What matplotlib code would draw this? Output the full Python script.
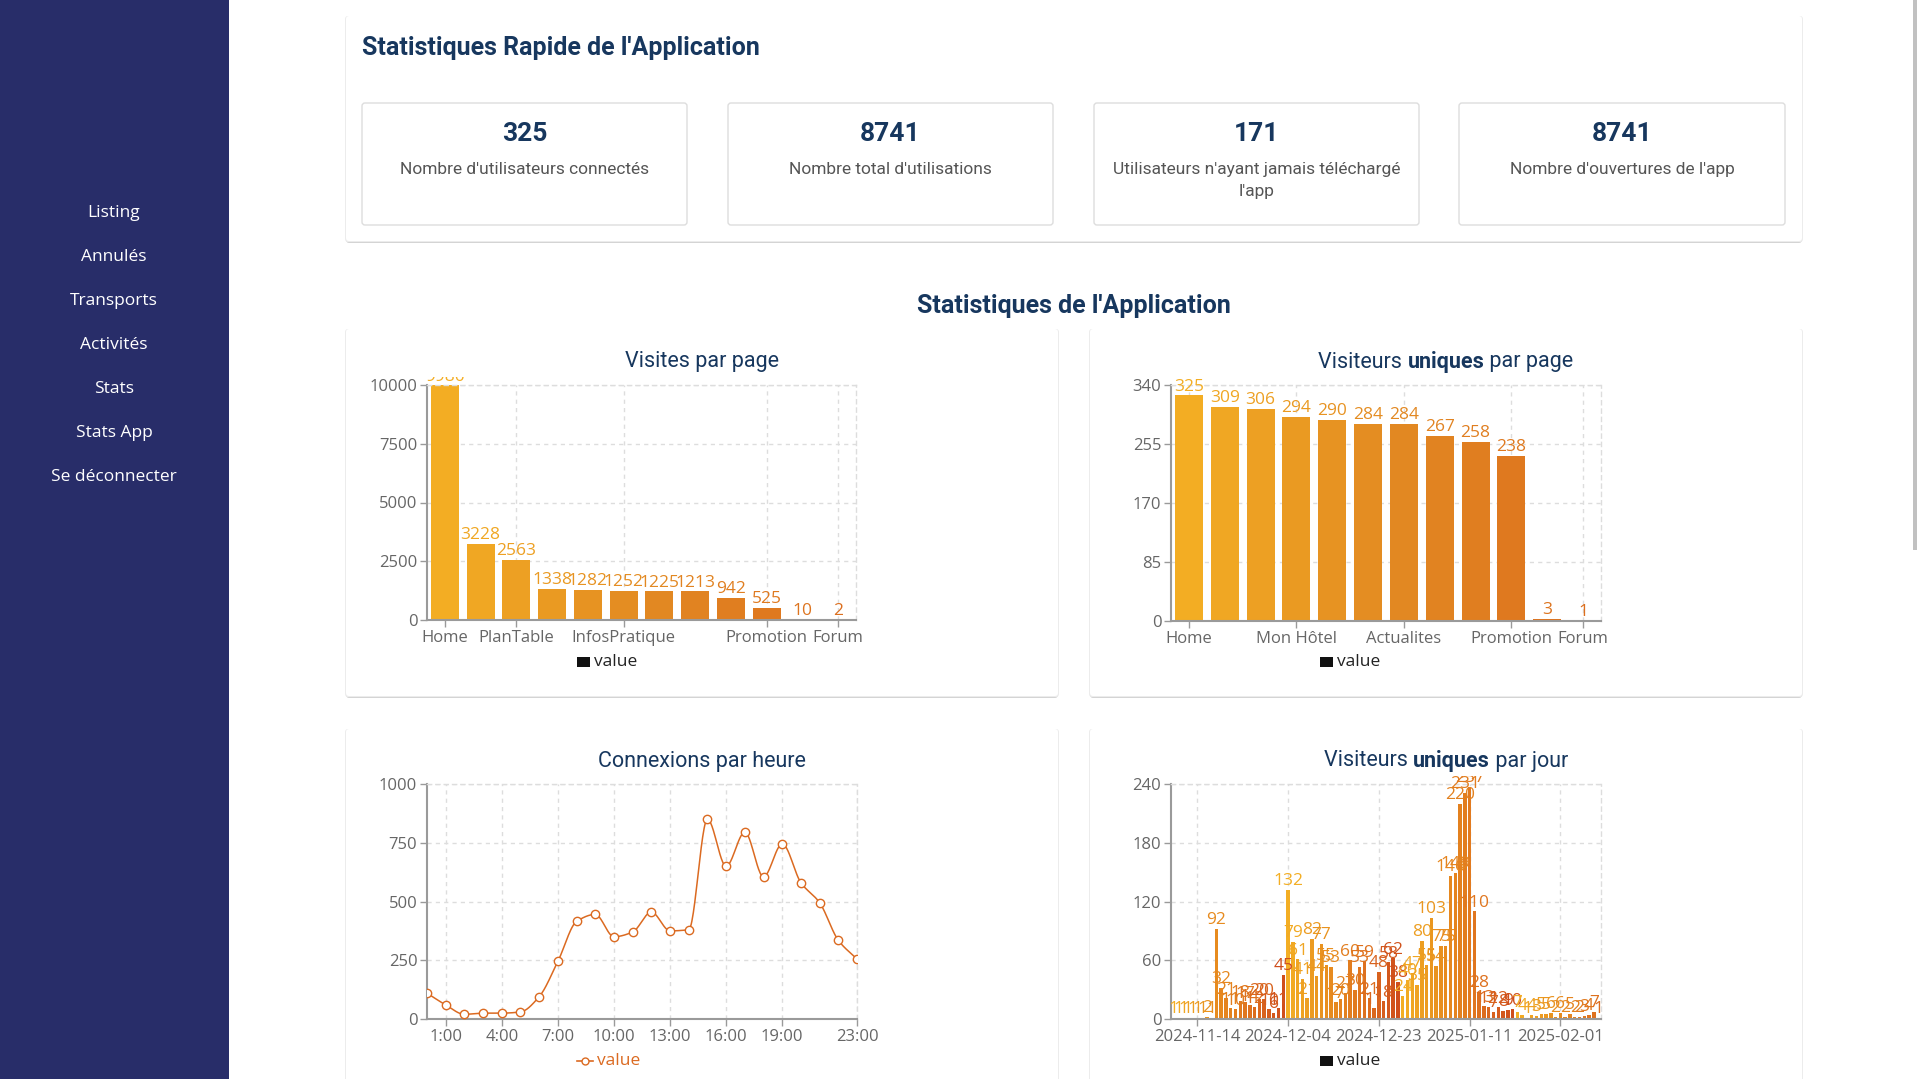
import numpy as np
import matplotlib
matplotlib.use("Agg")
import matplotlib.pyplot as plt
from matplotlib.patches import FancyBboxPatch, Rectangle
from matplotlib.colors import LinearSegmentedColormap, to_hex

# ---------------- data ----------------
menu_items = ["Listing", "Annulés", "Transports", "Activités", "Stats", "Stats App", "Se déconnecter"]
kpi_values = ["325", "8741", "171", "8741"]
kpi_labels = ["Nombre d'utilisateurs connectés", "Nombre total d'utilisations",
              "Utilisateurs n'ayant jamais téléchargé\nl'app", "Nombre d'ouvertures de l'app"]

visits_pages = ["Home", "", "PlanTable", "", "", "InfosPratique", "", "", "", "Promotion", "", "Forum"]
visits_values = [9980, 3228, 2563, 1338, 1282, 1252, 1225, 1213, 942, 525, 10, 2]

unique_pages = ["Home", "", "", "Mon Hôtel", "", "", "Actualites", "", "", "Promotion", "", "Forum"]
unique_values = [325, 309, 306, 294, 290, 284, 284, 267, 258, 238, 3, 1]

hours = list(range(24))
hour_labels = {1: "1:00", 4: "4:00", 7: "7:00", 10: "10:00", 13: "13:00", 16: "16:00", 19: "19:00", 23: "23:00"}
hour_values = [110, 60, 20, 25, 25, 30, 95, 245, 415, 445, 350, 370, 455, 375, 380,
               850, 650, 795, 605, 745, 580, 495, 335, 255]

daily_values = [1, 1, 1, 1, 1, 1, 1, 2, 1, 92,
                32, 21, 11, 10, 18, 17, 14, 12, 20, 20, 10, 6, 11, 45,
                132, 79, 61, 41, 21, 82, 44, 77, 55, 53, 17, 20, 27, 60, 30, 53, 59, 21, 11, 48, 18, 58, 62,
                38, 24, 40, 47, 35, 80, 55, 103, 54, 75, 75, 146, 149, 220, 231, 237,
                110, 28, 13, 12, 7, 12, 8, 9, 10, 7, 4, 1, 4, 3, 5, 5, 6, 2, 6, 2, 5, 2, 2, 3, 4, 7, 1]
daily_tick_idx = [5, 24, 43, 62, 81]
daily_tick_labels = ["2024-11-14", "2024-12-04", "2024-12-23", "2025-01-11", "2025-02-01"]

# ---------------- style ----------------
W, H = 1918, 1079
fig = plt.figure(figsize=(W / 100, H / 100), dpi=100)
fig.patch.set_facecolor("white")
TITLE = "#17375e"
TICK = "#666666"
FONT = ["Open Sans", "DejaVu Sans"]
RFONT = ["Roboto", "DejaVu Sans"]

bg = fig.add_axes([0, 0, 1, 1])
bg.set_xlim(0, W)
bg.set_ylim(H, 0)
bg.axis("off")

def rect(x0, y0, x1, y1):
    return [x0 / W, 1 - y1 / H, (x1 - x0) / W, (y1 - y0) / H]

def card(x0, y0, x1, y1, shadow=True, ec="none", r=3):
    if shadow:
        bg.add_patch(FancyBboxPatch((x0, y0 + 2), x1 - x0, y1 - y0, boxstyle=f"round,pad=0,rounding_size={r}",
                                    fc="#d4d4d4", ec="none", zorder=1))
        bg.add_patch(FancyBboxPatch((x0 - 1, y0), x1 - x0 + 2, y1 - y0 + 1, boxstyle=f"round,pad=0,rounding_size={r}",
                                    fc="#ececec", ec="none", zorder=1))
    bg.add_patch(FancyBboxPatch((x0, y0), x1 - x0, y1 - y0, boxstyle=f"round,pad=0,rounding_size={r}",
                                fc="white", ec=ec, lw=1, zorder=2))

# sidebar
bg.add_patch(Rectangle((0, 0), 229, H, fc="#282d69", ec="none", zorder=1))
for i, m in enumerate(menu_items):
    bg.text(114, 213 + 44 * i, m, color="white", fontsize=12.5, family=FONT, ha="center", va="center", zorder=3)

# scrollbar
bg.add_patch(Rectangle((1913, 0), 4, 550, fc="#c1c1c1", ec="none", zorder=3))

# top card
card(346, 16, 1802, 241)
bg.text(362, 48, "Statistiques Rapide de l'Application", color=TITLE, fontsize=18, weight="bold",
        family=RFONT, ha="left", va="center", zorder=3)
box_x = [(362, 687), (728, 1053), (1094, 1419), (1459, 1785)]
for (x0, x1), v, l in zip(box_x, kpi_values, kpi_labels):
    card(x0, 103, x1, 225, shadow=False, ec="#dddddd")
    cx = (x0 + x1) / 2
    bg.text(cx, 134, v, color=TITLE, fontsize=19, weight="bold", family=RFONT, ha="center", va="center", zorder=3)
    bg.text(cx, 162, l, color="#555555", fontsize=12.5, family=RFONT, ha="center", va="top",
            linespacing=1.55, zorder=3)

bg.text(1074, 306, "Statistiques de l'Application", color=TITLE, fontsize=18, weight="bold",
        family=RFONT, ha="center", va="center", zorder=3)

# chart cards
card(346, 329, 1058, 696)
card(1090, 329, 1802, 696)
card(346, 729, 1058, 1095)
card(1090, 729, 1802, 1095)

def mixed_title(cx, cy, parts):
    texts = []
    for s, bold in parts:
        texts.append(bg.text(0, cy, s, color=TITLE, fontsize=15.5, weight="bold" if bold else "normal",
                             family=RFONT, ha="left", va="center", zorder=3))
    fig.canvas.draw()
    r = fig.canvas.get_renderer()
    widths = [t.get_window_extent(r).width for t in texts]
    x = cx - sum(widths) / 2
    for t, w in zip(texts, widths):
        t.set_x(x)
        x += w

mixed_title(702, 362, [("Visites par page", False)])
mixed_title(1446, 362, [("Visiteurs ", False), ("uniques", True), (" par page", False)])
mixed_title(702, 761, [("Connexions par heure", False)])
mixed_title(1446, 761, [("Visiteurs ", False), ("uniques", True), (" par jour", False)])

grad = LinearSegmentedColormap.from_list("g", ["#f3ad23", "#e38a22", "#dc6f1e"])
cyc = LinearSegmentedColormap.from_list("c", ["#f3ae24", "#e8901f", "#e0751f", "#cf4e1c"])

def style_axes(ax, yticks):
    ax.set_facecolor("none")
    for s in ["top", "right"]:
        ax.spines[s].set_color("#dddddd")
        ax.spines[s].set_linestyle((0, (3, 3)))
        ax.spines[s].set_linewidth(1)
    for s in ["left", "bottom"]:
        ax.spines[s].set_color("#9a9a9a")
        ax.spines[s].set_linewidth(1.5)
    ax.set_yticks(yticks)
    ax.set_yticklabels([str(t) for t in yticks])
    ax.grid(True, color="#dddddd", linestyle=(0, (3, 3)), linewidth=1)
    ax.set_axisbelow(True)
    ax.tick_params(colors="#9a9a9a", labelcolor=TICK, labelsize=12, length=5, width=1, pad=2)
    for lbl in ax.get_xticklabels() + ax.get_yticklabels():
        lbl.set_family(FONT)
    ax.set_ylim(yticks[0], yticks[-1])

def bar_chart(box, values, labels, yticks, colors, width, labsize, tick_idx=None, tick_labels=None):
    ax = fig.add_axes(rect(*box))
    x = np.arange(len(values))
    ax.bar(x, values, width=width, color=colors, zorder=2)
    ax.set_xlim(-0.5, len(values) - 0.5)
    if tick_idx is None:
        tick_idx = [i for i, l in enumerate(labels) if l]
        tick_labels = [labels[i] for i in tick_idx]
    ax.set_xticks(tick_idx)
    ax.set_xticklabels(tick_labels)
    style_axes(ax, yticks)
    clip = Rectangle((0, 0), 1, 1.035, transform=ax.transAxes, fill=False, visible=False)
    ax.add_patch(clip)
    for xi, v, c in zip(x, values, colors):
        t = ax.annotate(str(v), (xi, v), xytext=(0, 0.5), textcoords="offset points", ha="center", va="bottom",
                        color=c, fontsize=labsize, family=FONT, annotation_clip=False, zorder=3)
        t.set_clip_path(clip)
    return ax

n1 = len(visits_values)
bar_chart((427, 385, 856, 620), visits_values, visits_pages, [0, 2500, 5000, 7500, 10000],
          [to_hex(grad(i / (n1 - 1))) for i in range(n1)], 0.78, 12.5)
n2 = len(unique_values)
bar_chart((1171, 385, 1601, 621), unique_values, unique_pages, [0, 85, 170, 255, 340],
          [to_hex(grad(i / (n2 - 1))) for i in range(n2)], 0.78, 12.5)
nd = len(daily_values)
bar_chart((1171, 784, 1601, 1019), daily_values, None, [0, 60, 120, 180, 240],
          [to_hex(cyc(((i) % 24) / 23)) for i in range(nd)], 0.7, 12.5,
          tick_idx=daily_tick_idx, tick_labels=daily_tick_labels)

# hourly line chart with monotone cubic interpolation (display curve)
def pchip(x, y, xs):
    x = np.asarray(x, float); y = np.asarray(y, float)
    h = np.diff(x); d = np.diff(y) / h
    m = np.zeros_like(y)
    m[0], m[-1] = d[0], d[-1]
    for k in range(1, len(y) - 1):
        if d[k - 1] * d[k] > 0:
            m[k] = 2 / (1 / d[k - 1] + 1 / d[k])
    out = []
    for v in xs:
        k = min(np.searchsorted(x, v, side="right") - 1, len(x) - 2)
        t = (v - x[k]) / h[k]
        h00 = 2 * t**3 - 3 * t**2 + 1; h10 = t**3 - 2 * t**2 + t
        h01 = -2 * t**3 + 3 * t**2; h11 = t**3 - t**2
        out.append(h00 * y[k] + h10 * h[k] * m[k] + h01 * y[k + 1] + h11 * h[k] * m[k + 1])
    return np.array(out)

LC = "#db6a21"
ax3 = fig.add_axes(rect(427, 784, 857, 1019))
xs = np.linspace(0, 23, 600)
ax3.plot(xs, pchip(hours, hour_values, xs), color=LC, lw=1.1, zorder=2)
ax3.plot(hours, hour_values, "o", ms=6, mfc="white", mec=LC, mew=1, zorder=3)
ax3.set_xlim(0, 23)
ax3.set_xticks(list(hour_labels.keys()))
ax3.set_xticklabels(list(hour_labels.values()))
style_axes(ax3, [0, 250, 500, 750, 1000])

# legends
for cx, cy in [(607, 662), (1350, 662), (1350, 1061)]:
    bg.add_patch(Rectangle((cx - 30, cy - 5), 13, 10, fc="#111111", ec="none", zorder=3))
    bg.text(cx - 13, cy, "value", color="#222222", fontsize=12.5, family=FONT, ha="left", va="center", zorder=3)
bg.plot([577, 593], [1061, 1061], color=LC, lw=1.2, zorder=3)
bg.plot([585], [1061], "o", ms=5, mfc="white", mec=LC, mew=1, zorder=4)
bg.text(597, 1061, "value", color=LC, fontsize=12.5, family=FONT, ha="left", va="center", zorder=3)

fig.savefig("out.png", dpi=100, facecolor="white")
